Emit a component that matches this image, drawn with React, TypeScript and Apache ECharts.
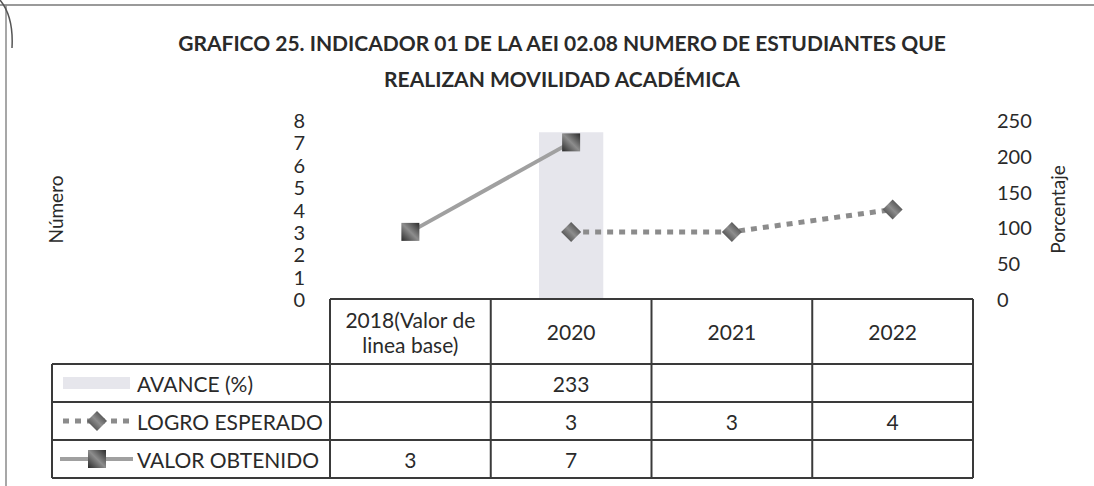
import React, { useEffect, useRef } from "react";
import * as echarts from "echarts";

const titleLines = [
  "GRAFICO 25. INDICADOR 01 DE LA AEI 02.08 NUMERO DE ESTUDIANTES QUE",
  "REALIZAN MOVILIDAD ACADÉMICA",
];
const categories = ["2018(Valor de\nlinea base)", "2020", "2021", "2022"];
const seriesNames = ["AVANCE (%)", "LOGRO ESPERADO", "VALOR OBTENIDO"];
const avance: (number | null)[] = [null, 233, null, null];
const logroEsperado: (number | null)[] = [null, 3, 3, 4];
const valorObtenido: (number | null)[] = [3, 7, null, null];
const leftAxis = { name: "Número", min: 0, max: 8, interval: 1 };
const rightAxis = { name: "Porcentaje", min: 0, max: 250, interval: 50 };

const FONT = "Lato";
const W = 1094;
const H = 486;
const GRID = { left: 330, right: 121, top: 120, bottom: 187 };
const ROWS = [364, 402, 440, 478];
const TABLE_LEFT = 52;
const LINE_C = "#3a3a3a";
const TABLE_FONT = 21;

function markerGradient() {
  return new echarts.graphic.LinearGradient(1, 0, 0, 1, [
    { offset: 0, color: "#2b2b2b" },
    { offset: 0.5, color: "#8d8d8d" },
    { offset: 1, color: "#2b2b2b" },
  ]);
}

export default function App() {
  const ref = useRef<HTMLDivElement>(null);
  useEffect(() => {
    document.body.style.margin = "0";
    const chart = echarts.init(ref.current!, undefined, { renderer: "svg" });
    const option: any = {
      animation: false,
      backgroundColor: "#ffffff",
      title: {
        text: titleLines.join("\n"),
        left: 557,
        top: 19,
        textAlign: "center",
        textStyle: {
          fontFamily: FONT,
          fontWeight: "bold",
          fontSize: 21,
          lineHeight: 36,
          color: "#2a2a2a",
        },
      },
      grid: { ...GRID },
      xAxis: { type: "category", data: categories, show: false },
      yAxis: [
        {
          type: "value",
          position: "left",
          min: leftAxis.min,
          max: leftAxis.max,
          interval: leftAxis.interval,
          axisLine: { show: false },
          axisTick: { show: false },
          splitLine: { show: false },
          axisLabel: { fontFamily: FONT, fontSize: 20, color: "#2a2a2a", margin: 25 },
          name: leftAxis.name,
          nameLocation: "middle",
          nameRotate: 90,
          nameGap: 265,
          nameTextStyle: { fontFamily: FONT, fontSize: 19, color: "#2a2a2a" },
        },
        {
          type: "value",
          position: "right",
          min: rightAxis.min,
          max: rightAxis.max,
          interval: rightAxis.interval,
          axisLine: { show: false },
          axisTick: { show: false },
          splitLine: { show: false },
          axisLabel: { fontFamily: FONT, fontSize: 20, color: "#2a2a2a", margin: 24 },
          name: rightAxis.name,
          nameLocation: "middle",
          nameRotate: 90,
          nameGap: 75,
          nameTextStyle: { fontFamily: FONT, fontSize: 19, color: "#2a2a2a" },
        },
      ],
      series: [
        {
          type: "bar",
          name: seriesNames[0],
          yAxisIndex: 1,
          data: avance,
          barWidth: "40%",
          itemStyle: { color: "#e6e6ec" },
          z: 1,
        },
        {
          type: "line",
          name: seriesNames[1],
          yAxisIndex: 0,
          data: logroEsperado,
          symbol: "diamond",
          symbolSize: [20, 20],
          itemStyle: { color: markerGradient() },
          lineStyle: { color: "#8c8c8c", width: 5, type: [6, 6], cap: "butt" },
          z: 3,
        },
        {
          type: "line",
          name: seriesNames[2],
          yAxisIndex: 0,
          data: valorObtenido,
          symbol: "rect",
          symbolSize: 18,
          itemStyle: { color: markerGradient() },
          lineStyle: { color: "#a0a0a0", width: 4 },
          z: 4,
        },
      ],
    };
    chart.setOption(option);

    const centers = categories.map((_, i) => chart.convertToPixel({ xAxisIndex: 0 }, i) as number);
    const band = centers.length > 1 ? centers[1] - centers[0] : 160;
    const bounds = centers.map((c) => c - band / 2).concat([centers[centers.length - 1] + band / 2]);
    const plotBottom = chart.convertToPixel({ yAxisIndex: 0 }, leftAxis.min) as number;
    const tableRight = bounds[bounds.length - 1];

    const g: any[] = [];
    const line = (x1: number, y1: number, x2: number, y2: number, stroke = LINE_C, lw = 2, dash?: number[]) =>
      g.push({
        type: "line",
        shape: { x1, y1, x2, y2 },
        style: { stroke, lineWidth: lw, lineDash: dash },
        z: 10,
      });
    const text = (x: number, y: number, t: string, align = "center", size = TABLE_FONT) =>
      g.push({
        type: "text",
        x,
        y,
        style: {
          text: t,
          fontFamily: FONT,
          fontSize: size,
          lineHeight: 25,
          fill: "#2a2a2a",
          align,
          verticalAlign: "middle",
        },
        z: 11,
      });

    // page border (scan frame)
    line(0, 5, W, 5, "#9a9a9a", 2);
    line(6, 5, 6, H, "#8a8a8a", 1.5);
    g.push({
      type: "bezierCurve",
      shape: { x1: 0, y1: 0, x2: 12, y2: 48, cpx1: 10, cpy1: 12, cpx2: 13, cpy2: 30 },
      style: { stroke: "#555", lineWidth: 1.5, fill: "none" },
      z: 10,
    });

    // table grid
    line(bounds[0], plotBottom, tableRight, plotBottom);
    ROWS.forEach((y) => line(TABLE_LEFT, y, tableRight, y));
    line(TABLE_LEFT, ROWS[0], TABLE_LEFT, ROWS[ROWS.length - 1]);
    bounds.forEach((x) => line(x, plotBottom, x, ROWS[ROWS.length - 1]));

    // header
    categories.forEach((c, i) => text(centers[i], (plotBottom + ROWS[0]) / 2, c));

    // rows
    const rowData = [avance, logroEsperado, valorObtenido];
    rowData.forEach((arr, r) => {
      const yc = (ROWS[r] + ROWS[r + 1]) / 2;
      text(137, yc, seriesNames[r], "left");
      arr.forEach((v, i) => {
        if (v !== null && v !== undefined) text(centers[i], yc, String(v));
      });
    });

    // legend keys
    const y0 = (ROWS[0] + ROWS[1]) / 2;
    g.push({ type: "rect", shape: { x: 63, y: y0 - 6, width: 67, height: 12 }, style: { fill: "#e6e6ec" }, z: 11 });
    const y1 = (ROWS[1] + ROWS[2]) / 2;
    line(63, y1, 133, y1, "#8c8c8c", 5, [6, 6]);
    g.push({
      type: "polygon",
      shape: { points: [[97, y1 - 10], [107, y1], [97, y1 + 10], [87, y1]] },
      style: { fill: markerGradient() },
      z: 12,
    });
    const y2 = (ROWS[2] + ROWS[3]) / 2;
    line(60, y2, 133, y2, "#a0a0a0", 4);
    g.push({ type: "rect", shape: { x: 88, y: y2 - 9, width: 18, height: 18 }, style: { fill: markerGradient() }, z: 12 });

    chart.setOption({ graphic: g });
    return () => chart.dispose();
  }, []);
  return <div ref={ref} style={{ width: W, height: H }} />;
}
